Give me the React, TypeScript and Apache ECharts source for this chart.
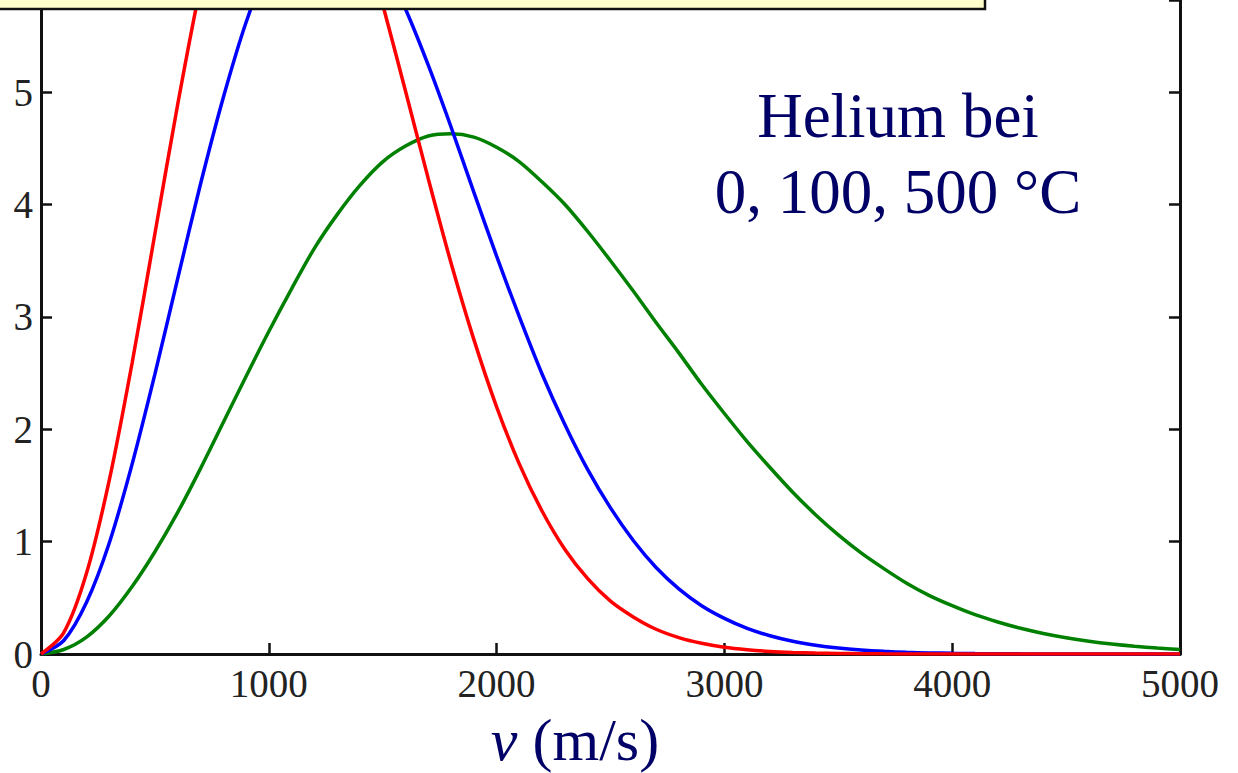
import React, { useEffect, useRef } from "react";
import * as echarts from "echarts";

// speeds in m/s (step 100)
const speeds: number[] = Array.from({ length: 51 }, (_, i) => i * 100);

// f(v) in 1e-4 s/m
const he0C: number[] = [
  0, 0.19, 0.72, 1.55, 2.59, 3.74, 4.89, 5.94, 6.80, 7.41, 7.73, 7.78, 7.56, 7.12, 6.51, 5.78,
  5.01, 4.23, 3.48, 2.80, 2.20, 1.69, 1.27, 0.93, 0.67, 0.47, 0.33, 0.22, 0.146, 0.095, 0.060,
  0.038, 0.023, 0.014, 0.008, 0.005, 0.003, 0.0015, 0.0008, 0.0004, 0.0002, 0, 0, 0, 0, 0, 0, 0, 0, 0, 0,
];
const he100C: number[] = [
  0, 0.12, 0.46, 0.99, 1.69, 2.49, 3.34, 4.18, 4.95, 5.62, 6.13, 6.48, 6.65, 6.64, 6.47, 6.16,
  5.74, 5.24, 4.69, 4.11, 3.54, 3.0, 2.49, 2.04, 1.64, 1.3, 1.01, 0.77, 0.58, 0.43, 0.317,
  0.228, 0.162, 0.113, 0.078, 0.053, 0.0355, 0.0234, 0.0152, 0.0098, 0.0062, 0.0038, 0.0024,
  0.0014, 0.0008, 0.0005, 0.0003, 0.0002, 0.0001, 0, 0,
];
const he500C: number[] = [
  0, 0.04, 0.15, 0.34, 0.6, 0.91, 1.26, 1.65, 2.06, 2.47, 2.87, 3.25, 3.61, 3.91, 4.17, 4.38,
  4.52, 4.61, 4.63, 4.6, 4.51, 4.38, 4.2, 4.0, 3.76, 3.5, 3.23, 2.95, 2.68, 2.4, 2.14,
  1.89, 1.66, 1.44, 1.24, 1.06, 0.9, 0.76, 0.63, 0.52, 0.43, 0.35, 0.285, 0.229, 0.183, 0.145,
  0.114, 0.089, 0.069, 0.053, 0.041,
];

const seriesNames = ["0 °C", "100 °C", "500 °C"];
const seriesColors = ["#ff0000", "#0000ff", "#008000"];
const xTicks = [0, 1000, 2000, 3000, 4000, 5000];
const titleLines = ["Helium bei", "0, 100, 500 °C"];

const SERIF = "'Liberation Serif', 'Times New Roman', serif";

export default function App() {
  const ref = useRef<HTMLDivElement>(null);

  useEffect(() => {
    if (!ref.current) return;
    const chart = echarts.init(ref.current, null, { renderer: "svg" });
    const all = [he0C, he100C, he500C];
    const yAxisCommon = {
      type: "value" as const,
      min: 0,
      max: 5.82,
      interval: 1,
      splitLine: { show: false },
      axisLine: { show: true, lineStyle: { color: "#111", width: 3 } },
      axisTick: { show: true, inside: true, length: 11, lineStyle: { color: "#111", width: 2.5 } },
    };
    chart.setOption({
      animation: false,
      backgroundColor: "#ffffff",
      grid: { left: 41, right: 58, top: 0, bottom: 119, containLabel: false },
      xAxis: {
        type: "value",
        min: xTicks[0],
        max: xTicks[xTicks.length - 1],
        interval: 1000,
        splitLine: { show: false },
        axisLine: { show: true, lineStyle: { color: "#111", width: 3 } },
        axisTick: { show: true, inside: true, length: 11, lineStyle: { color: "#111", width: 2.5 } },
        axisLabel: {
          margin: 10,
          fontFamily: SERIF,
          fontSize: 39,
          color: "#222",
          showMaxLabel: true,
          showMinLabel: true,
          formatter: (v: number) => String(v),
        },
      },
      yAxis: [
        {
          ...yAxisCommon,
          position: "left",
          axisLabel: {
            margin: 8,
            fontFamily: SERIF,
            fontSize: 39,
            color: "#222",
            showMaxLabel: false,
            formatter: (v: number) => (Number.isInteger(v) ? String(v) : ""),
          },
        },
        {
          ...yAxisCommon,
          position: "right",
          axisLabel: { show: false },
        },
      ],
      series: all.map((arr, k) => ({
        name: seriesNames[k],
        type: "line",
        data: speeds.map((v, i) => [v, arr[i]]),
        showSymbol: false,
        smooth: 0.3,
        clip: true,
        lineStyle: { color: seriesColors[k], width: 3.5 },
        itemStyle: { color: seriesColors[k] },
        z: 3 - k,
      })),
      graphic: [
        {
          type: "rect",
          shape: { x: -4, y: -12, width: 989, height: 21 },
          style: { fill: "#ffffcc", stroke: "#111", lineWidth: 2.5 },
          z: 100,
        },
        {
          type: "text",
          x: 898,
          y: 116,
          style: {
            text: titleLines[0],
            fontFamily: SERIF,
            fontSize: 63,
            fill: "#000066",
            align: "center",
            verticalAlign: "middle",
          },
          z: 100,
        },
        {
          type: "text",
          x: 898,
          y: 192,
          style: {
            text: titleLines[1],
            fontFamily: SERIF,
            fontSize: 63,
            fill: "#000066",
            align: "center",
            verticalAlign: "middle",
          },
          z: 100,
        },
        {
          type: "text",
          x: 575,
          y: 740,
          style: {
            text: "{i|v} (m/s)",
            fontFamily: SERIF,
            fontSize: 60,
            fill: "#000066",
            align: "center",
            verticalAlign: "middle",
            rich: {
              i: { fontFamily: SERIF, fontSize: 60, fontStyle: "italic", fill: "#000066" },
            },
          },
          z: 100,
        },
      ],
    });
    return () => chart.dispose();
  }, []);

  return (
    <div
      ref={ref}
      style={{ position: "absolute", left: 0, top: 0, width: 1238, height: 773, background: "#fff" }}
    />
  );
}
